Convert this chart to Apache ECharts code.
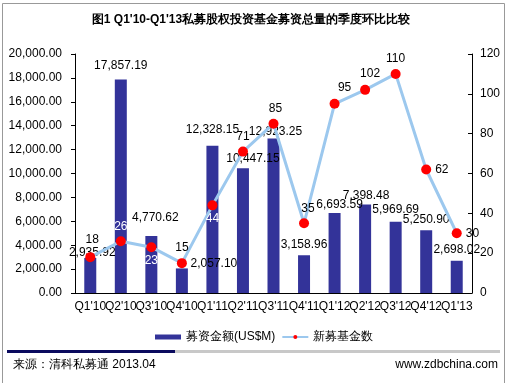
<!DOCTYPE html>
<html><head><meta charset="utf-8">
<script src="https://cdn.jsdelivr.net/npm/echarts@6/dist/echarts.min.js"></script>
<style>html,body{margin:0;padding:0;background:#fff}#c{width:508px;height:383px}</style>
</head><body><div id="c"></div>
<script>
const categories = ["Q1'10","Q2'10","Q3'10","Q4'10","Q1'11","Q2'11","Q3'11","Q4'11","Q1'12","Q2'12","Q3'12","Q4'12","Q1'13"];
const fundAmount = [2935.92,17857.19,4770.62,2057.10,12328.15,10447.15,12923.25,3158.96,6693.59,7398.48,5969.69,5250.90,2698.02];
const fundCount = [18,26,23,15,44,71,85,35,95,102,110,62,30];
const leftTicks = {min:0,max:20000,interval:2000};
const rightTicks = {min:0,max:120,interval:20};

// label style per point (positions only)
const barLabelStyle = [
  {offset:[2,4]},{offset:[0,-5]},{offset:[4,-9]},{offset:[32,4]},
  {offset:[0,-7]},{offset:[10,0]},{offset:[2,2]},{offset:[0,-2]},
  {offset:[5,1]},{offset:[1,0]},{offset:[0,-3]},{offset:[0,-2]},{offset:[0,-2]}
];
const lineLabelStyle = [
  {position:'top',offset:[2,-2]},{position:'top',color:'#fff',offset:[0,0]},{position:'bottom',color:'#fff',offset:[0,-2]},
  {position:'top',offset:[0,0]},{position:'bottom',color:'#fff',offset:[0,-2]},{position:'top'},{position:'top',offset:[2,0]},
  {position:'top',offset:[4,0]},{position:'top',offset:[10,-1]},{position:'top',offset:[5,-1]},{position:'top'},
  {position:'right'},{position:'right'}
];

const fmt = v => Number(v).toLocaleString('en-US',{minimumFractionDigits:2,maximumFractionDigits:2});
const font = 'Liberation Sans, Arial, sans-serif';

const chart = echarts.init(document.getElementById('c'));
chart.setOption({
  animation:false,
  textStyle:{fontFamily:font},
  title:{text:"图1 Q1'10-Q1'13私募股权投资基金募资总量的季度环比比较",left:246,textAlign:'center',top:9,
    textStyle:{fontSize:12,fontWeight:'bold',color:'#000',fontFamily:font}},
  grid:{left:75,right:36,top:54,bottom:90},
  legend:{top:326,left:150,itemGap:6,itemWidth:26,itemHeight:5,
    textStyle:{fontSize:12,color:'#000',fontFamily:font},
    data:[{name:'募资金额(US$M)',icon:'rect'},{name:'新募基金数'}]},
  xAxis:{type:'category',data:categories,
    axisLine:{lineStyle:{color:'#000'}},
    axisTick:{inside:true,length:5,lineStyle:{color:'#000'}},
    axisLabel:{interval:0,color:'#000',fontSize:12,margin:8,fontFamily:font}},
  yAxis:[
    {type:'value',min:leftTicks.min,max:leftTicks.max,interval:leftTicks.interval,
     axisLine:{show:true,lineStyle:{color:'#000'}},axisTick:{show:true,length:4,lineStyle:{color:'#000'}},
     splitLine:{show:false},axisLabel:{formatter:fmt,color:'#000',fontSize:12,margin:13,fontFamily:font}},
    {type:'value',min:rightTicks.min,max:rightTicks.max,interval:rightTicks.interval,position:'right',
     axisLine:{show:true,lineStyle:{color:'#000'}},axisTick:{show:true,inside:true,length:4,lineStyle:{color:'#000'}},
     splitLine:{show:false},axisLabel:{color:'#000',fontSize:12,margin:8,fontFamily:font}}
  ],
  series:[
    {name:'募资金额(US$M)',type:'bar',barWidth:12,yAxisIndex:0,
     itemStyle:{color:'#333399'},
     label:{show:true,position:'top',distance:3,color:'#000',fontSize:12,formatter:p=>fmt(p.value),fontFamily:font},
     data:fundAmount.map((v,i)=>({value:v,label:barLabelStyle[i]}))},
    {name:'新募基金数',type:'line',yAxisIndex:1,symbol:'circle',symbolSize:10,
     lineStyle:{color:'#9CC8EE',width:3},itemStyle:{color:'#FF0000'},
     label:{show:true,color:'#000',fontSize:12,distance:4,fontFamily:font},
     data:fundCount.map((v,i)=>({value:v,label:lineLabelStyle[i]})),z:3}
  ],
  graphic:[
    {type:'rect',shape:{x:2.5,y:3.5,width:502,height:390},style:{fill:null,stroke:'#999',lineWidth:1},silent:true},
    {type:'rect',shape:{x:7,y:350,width:168,height:3},style:{fill:'#0A0A5E'}},
    {type:'rect',shape:{x:175,y:350,width:325,height:3},style:{fill:'#C8C8C8'}},
    {type:'text',left:13,top:359,style:{text:'来源：清科私募通 2013.04',fontSize:12,fill:'#000',fontFamily:font}},
    {type:'text',right:10,top:359,style:{text:'www.zdbchina.com',fontSize:12,fill:'#000',fontFamily:font}}
  ]
});
</script></body></html>
